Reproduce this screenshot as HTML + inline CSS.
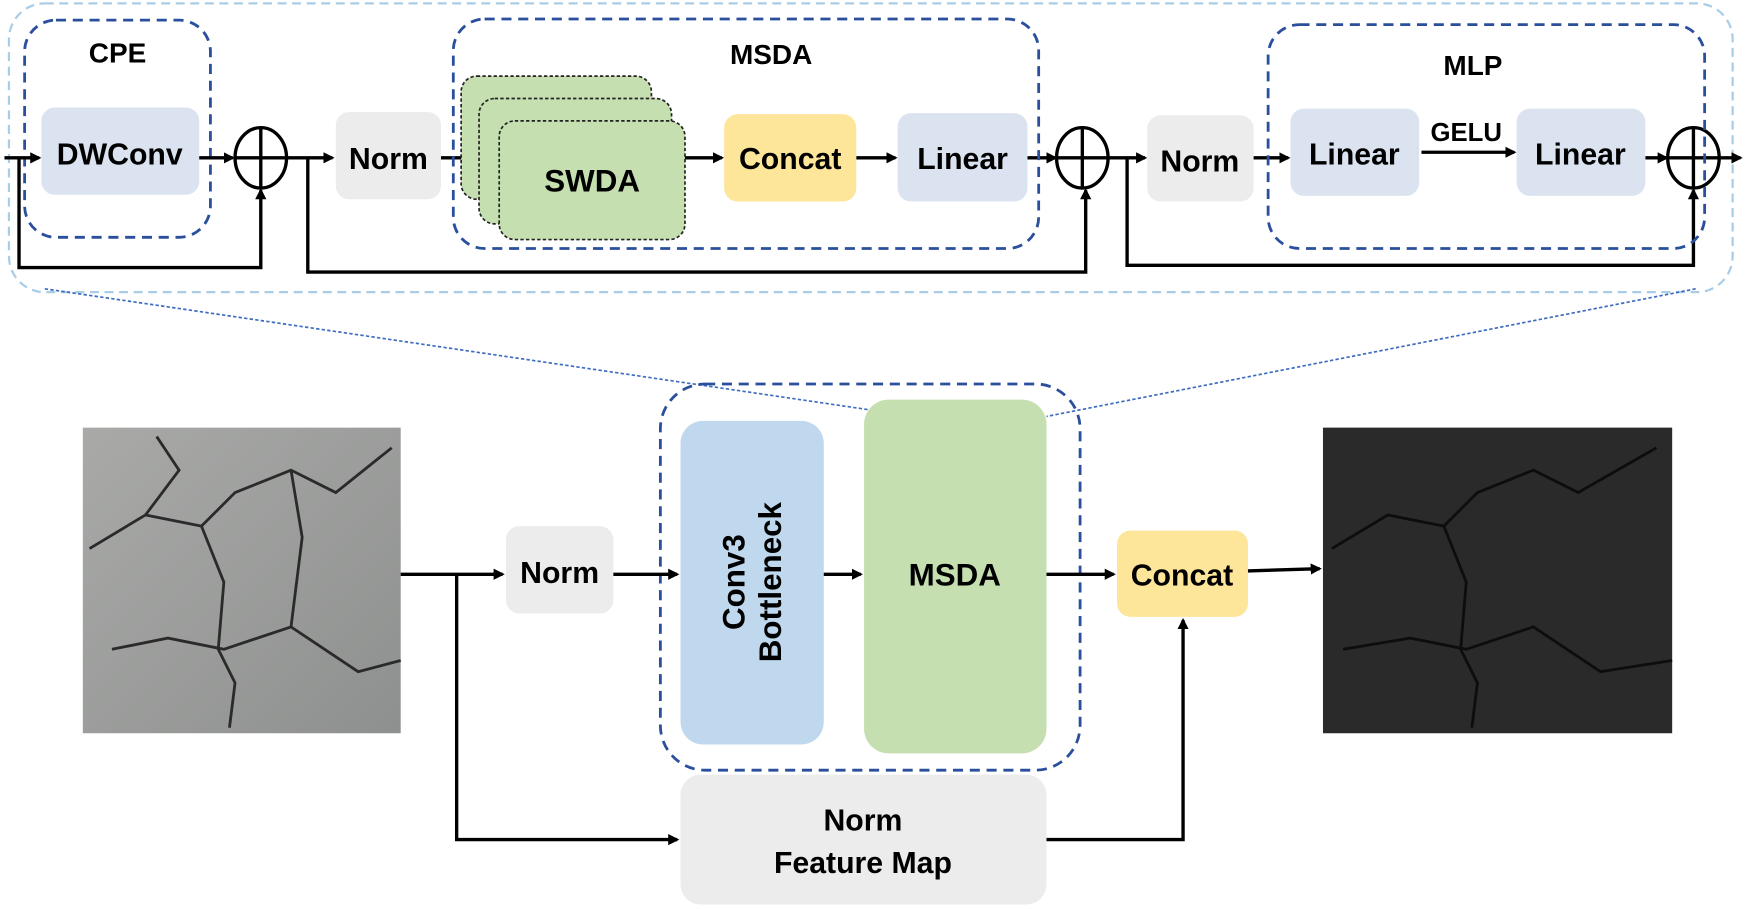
<!DOCTYPE html>
<html><head><meta charset="utf-8"><style>
html,body{margin:0;padding:0;background:#fff;}
svg{display:block;font-family:"Liberation Sans",Arial,sans-serif;font-weight:bold;}
</style></head><body>
<svg width="1755" height="909" viewBox="0 0 1568 812" preserveAspectRatio="none" xmlns="http://www.w3.org/2000/svg">
<defs>
<marker id="a" markerWidth="10" markerHeight="10" refX="8" refY="5" orient="auto" markerUnits="userSpaceOnUse"><path d="M0,0 L10,5 L0,10 z" fill="#000"/></marker>
<linearGradient id="g1" x1="0" y1="0" x2="1" y2="1"><stop offset="0" stop-color="#a9aaa8"/><stop offset="1" stop-color="#8e908f"/></linearGradient>
</defs>
<rect x="8" y="3" width="1540" height="258" rx="32" fill="none" stroke="#a9cde6" stroke-width="2" stroke-dasharray="8,5"/>
<line x1="40" y1="258" x2="790" y2="368" stroke="#3d6cc0" stroke-width="1.5" stroke-dasharray="3,2"/>
<line x1="1515" y1="258" x2="935" y2="372" stroke="#3d6cc0" stroke-width="1.5" stroke-dasharray="3,2"/>
<rect x="22" y="18" width="166" height="194" rx="28" fill="none" stroke="#2a4f9c" stroke-width="2.5" stroke-dasharray="9,6"/>
<text x="105" y="56" font-size="25" text-anchor="middle">CPE</text>
<rect x="37" y="96" width="141" height="78" rx="12" fill="#dbe3f0"/>
<text x="107" y="147" font-size="27" text-anchor="middle">DWConv</text>
<g stroke="#000" stroke-width="3" fill="none">
<ellipse cx="233" cy="141" rx="23" ry="27"/><line x1="210" y1="141" x2="256" y2="141"/><line x1="233" y1="114" x2="233" y2="168"/>
<ellipse cx="967" cy="141" rx="23" ry="27"/><line x1="944" y1="141" x2="990" y2="141"/><line x1="967" y1="114" x2="967" y2="168"/>
<ellipse cx="1513" cy="141" rx="23" ry="27"/><line x1="1490" y1="141" x2="1536" y2="141"/><line x1="1513" y1="114" x2="1513" y2="168"/>
</g>
<g stroke="#000" stroke-width="3" fill="none">
<line x1="4" y1="141" x2="35" y2="141" marker-end="url(#a)"/>
<line x1="178" y1="141" x2="208" y2="141" marker-end="url(#a)"/>
<polyline points="17,141 17,239 233,239 233,170" marker-end="url(#a)"/>
<line x1="256" y1="141" x2="297" y2="141" marker-end="url(#a)"/>
<polyline points="275,141 275,243 970,243 970,170" marker-end="url(#a)"/>
<line x1="394" y1="141" x2="425" y2="141" marker-end="url(#a)"/>
<line x1="612" y1="141" x2="645" y2="141" marker-end="url(#a)"/>
<line x1="765" y1="141" x2="800" y2="141" marker-end="url(#a)"/>
<line x1="918" y1="141" x2="943" y2="141" marker-end="url(#a)"/>
<line x1="990" y1="141" x2="1023" y2="141" marker-end="url(#a)"/>
<polyline points="1007,141 1007,237 1513,237 1513,170" marker-end="url(#a)"/>
<line x1="1120" y1="141" x2="1151" y2="141" marker-end="url(#a)"/>
<line x1="1270" y1="136" x2="1353" y2="136" marker-end="url(#a)"/>
<line x1="1470" y1="141" x2="1489" y2="141" marker-end="url(#a)"/>
<line x1="1536" y1="141" x2="1555" y2="141" marker-end="url(#a)"/>
</g>
<rect x="300" y="100" width="94" height="78" rx="12" fill="#ececec"/>
<text x="347" y="151" font-size="27" text-anchor="middle">Norm</text>
<rect x="405" y="17" width="523" height="205" rx="28" fill="none" stroke="#2a4f9c" stroke-width="2.5" stroke-dasharray="9,6"/>
<text x="689" y="57" font-size="25" text-anchor="middle">MSDA</text>
<rect x="412" y="68" width="170" height="110" rx="14" fill="#c5dfb0" stroke="#222" stroke-width="1.5" stroke-dasharray="3,2"/>
<rect x="428" y="88" width="172" height="112" rx="14" fill="#c5dfb0" stroke="#222" stroke-width="1.5" stroke-dasharray="3,2"/>
<rect x="446" y="108" width="166" height="106" rx="14" fill="#c5dfb0" stroke="#222" stroke-width="1.5" stroke-dasharray="3,2"/>
<text x="529" y="171" font-size="28" text-anchor="middle">SWDA</text>
<rect x="647" y="102" width="118" height="78" rx="12" fill="#fde599"/>
<text x="706" y="151" font-size="27" text-anchor="middle">Concat</text>
<rect x="802" y="101" width="116" height="79" rx="12" fill="#dbe3f0"/>
<text x="860" y="151" font-size="27" text-anchor="middle">Linear</text>
<rect x="1025" y="103" width="95" height="77" rx="12" fill="#ececec"/>
<text x="1072" y="153" font-size="27" text-anchor="middle">Norm</text>
<rect x="1133" y="22" width="390" height="200" rx="28" fill="none" stroke="#2a4f9c" stroke-width="2.5" stroke-dasharray="9,6"/>
<text x="1316" y="67" font-size="25" text-anchor="middle">MLP</text>
<rect x="1153" y="97" width="115" height="78" rx="12" fill="#dbe3f0"/>
<text x="1210" y="147" font-size="27" text-anchor="middle">Linear</text>
<text x="1310" y="126" font-size="23" text-anchor="middle">GELU</text>
<rect x="1355" y="97" width="115" height="78" rx="12" fill="#dbe3f0"/>
<text x="1412" y="147" font-size="27" text-anchor="middle">Linear</text>
<rect x="74" y="382" width="284" height="273" fill="url(#g1)"/>
<g stroke="#2a2a2a" stroke-width="2.5" fill="none">
<path d="M80,490 L130,460 L180,470 L210,440 L260,420 L300,440 L350,400"/>
<path d="M180,470 L200,520 L195,580 L210,610 L205,650"/>
<path d="M100,580 L150,570 L200,580 L260,560 L320,600 L358,590"/>
<path d="M260,420 L270,480 L260,560"/>
<path d="M140,390 L160,420 L130,460"/>
</g>
<rect x="1182" y="382" width="312" height="273" fill="#2a2a2a"/>
<g stroke="#0d0d0d" stroke-width="2.5" fill="none">
<path d="M1190,490 L1240,460 L1290,470 L1320,440 L1370,420 L1410,440 L1480,400"/>
<path d="M1290,470 L1310,520 L1305,580 L1320,610 L1315,650"/>
<path d="M1200,580 L1260,570 L1310,580 L1370,560 L1430,600 L1494,590"/>
</g>
<rect x="590" y="343" width="375" height="345" rx="40" fill="none" stroke="#2a4f9c" stroke-width="2.5" stroke-dasharray="9,6"/>
<rect x="452" y="470" width="96" height="78" rx="12" fill="#ececec"/>
<text x="500" y="521" font-size="27" text-anchor="middle">Norm</text>
<rect x="608" y="376" width="128" height="289" rx="20" fill="#bfd8ed"/>
<text transform="translate(672,520) rotate(-90)" font-size="28" text-anchor="middle"><tspan x="0" y="-7">Conv3</tspan><tspan x="0" y="26">Bottleneck</tspan></text>
<rect x="772" y="357" width="163" height="316" rx="22" fill="#c5dfb0"/>
<text x="853" y="523" font-size="28" text-anchor="middle">MSDA</text>
<rect x="998" y="474" width="117" height="77" rx="12" fill="#fde599"/>
<text x="1056" y="523" font-size="27" text-anchor="middle">Concat</text>
<rect x="608" y="692" width="327" height="116" rx="18" fill="#ececec"/>
<text x="771" y="742" font-size="27" text-anchor="middle">Norm</text>
<text x="771" y="780" font-size="27" text-anchor="middle">Feature Map</text>
<g stroke="#000" stroke-width="3" fill="none">
<line x1="358" y1="513" x2="449" y2="513" marker-end="url(#a)"/>
<polyline points="408,513 408,750 605,750" marker-end="url(#a)"/>
<line x1="548" y1="513" x2="605" y2="513" marker-end="url(#a)"/>
<line x1="736" y1="513" x2="769" y2="513" marker-end="url(#a)"/>
<line x1="935" y1="513" x2="995" y2="513" marker-end="url(#a)"/>
<line x1="1115" y1="510" x2="1179" y2="508" marker-end="url(#a)"/>
<polyline points="935,750 1057,750 1057,554" marker-end="url(#a)"/>
</g>
</svg>
</body></html>
